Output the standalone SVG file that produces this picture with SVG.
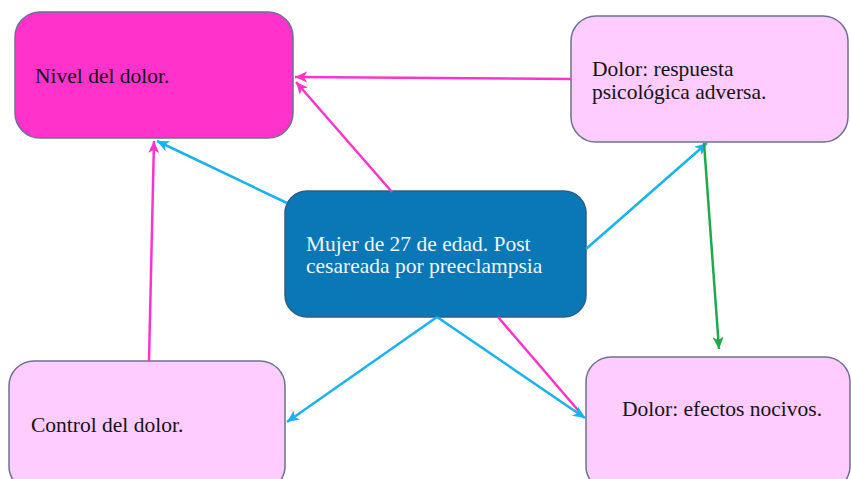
<svg xmlns="http://www.w3.org/2000/svg" width="851" height="479" viewBox="0 0 851 479">
  <style>
    .box { stroke: #6b7190; stroke-width: 1.5; }
    .hot { fill: #ff33cc; }
    .light { fill: #ffccff; }
    .main { fill: #0a77b6; stroke: #2c5f86; stroke-width: 1.5; }
    .t { font-family: "Liberation Serif", "Times New Roman", serif; font-size: 21.5px; fill: #141414; }
    .tw { font-family: "Liberation Serif", "Times New Roman", serif; font-size: 21.5px; fill: #f2f6fa; }
    .c { fill: none; stroke-width: 2.5; }
    .pink { stroke: #ff33cc; }
    .blue { stroke: #19b2ee; }
    .green { stroke: #1daa4c; }
  </style>
  <defs>
    <marker id="ap" markerUnits="userSpaceOnUse" markerWidth="13" markerHeight="13" refX="12" refY="6.5" orient="auto">
      <path d="M0,1 L12,6.5 L0,12 L3,6.5 Z" fill="#ff33cc"/>
    </marker>
    <marker id="ab" markerUnits="userSpaceOnUse" markerWidth="13" markerHeight="13" refX="12" refY="6.5" orient="auto">
      <path d="M0,1 L12,6.5 L0,12 L3,6.5 Z" fill="#19b2ee"/>
    </marker>
    <marker id="ag" markerUnits="userSpaceOnUse" markerWidth="13" markerHeight="13" refX="12" refY="6.5" orient="auto">
      <path d="M0,1 L12,6.5 L0,12 L3,6.5 Z" fill="#1daa4c"/>
    </marker>
  </defs>
  <rect width="851" height="479" fill="#ffffff"/>

  <g id="nivel">
    <rect class="box hot" x="15" y="12" width="278" height="126" rx="25"/>
    <text class="t" x="35" y="83">Nivel del dolor.</text>
  </g>
  <g id="respuesta">
    <rect class="box light" x="571" y="16" width="277" height="126" rx="25"/>
    <text class="t" x="592" y="76">Dolor: respuesta</text>
    <text class="t" x="592" y="99">psicológica adversa.</text>
  </g>
  <g id="mujer">
    <rect class="main" x="285" y="191" width="301" height="126" rx="22"/>
    <text class="tw" x="306" y="251">Mujer de 27 de edad. Post</text>
    <text class="tw" x="306" y="273">cesareada por preeclampsia</text>
  </g>
  <g id="control">
    <rect class="box light" x="9" y="361" width="276" height="130" rx="25"/>
    <text class="t" x="31" y="432">Control del dolor.</text>
  </g>
  <g id="efectos">
    <rect class="box light" x="586" y="357" width="264" height="134" rx="25"/>
    <text class="t" x="622" y="416">Dolor: efectos nocivos.</text>
  </g>

  <g id="connectors">
    <line class="c pink" x1="571" y1="79" x2="295" y2="77" marker-end="url(#ap)"/>
    <line class="c pink" x1="392" y1="192" x2="296" y2="82" marker-end="url(#ap)"/>
    <line class="c pink" x1="149" y1="361" x2="154" y2="141" marker-end="url(#ap)"/>
    <line class="c pink" x1="498" y1="317" x2="583" y2="416"/>
    <line class="c blue" x1="287" y1="203" x2="157" y2="141" marker-end="url(#ab)"/>
    <line class="c blue" x1="586" y1="249" x2="707" y2="143" marker-end="url(#ab)"/>
    <line class="c blue" x1="437" y1="317" x2="287" y2="422" marker-end="url(#ab)"/>
    <line class="c blue" x1="437" y1="317" x2="585" y2="418" marker-end="url(#ab)"/>
    <line class="c green" x1="704" y1="143" x2="719" y2="349" marker-end="url(#ag)"/>
  </g>
</svg>
